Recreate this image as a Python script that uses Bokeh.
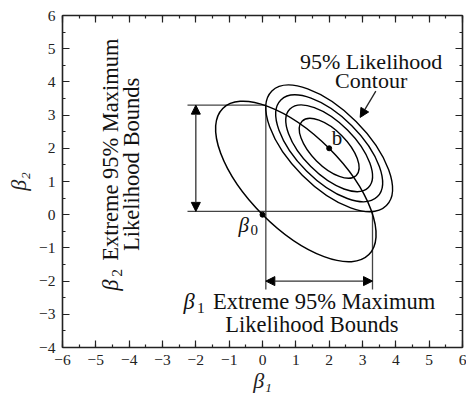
import math
from bokeh.plotting import figure
from bokeh.models import (LinearAxis, SingleIntervalTicker, Arrow, NormalHead,
                          ColumnDataSource)
from bokeh.core.properties import value
from bokeh.embed import file_html
from bokeh.resources import INLINE

# ---------------- data ----------------
x_ticks = [-6, -5, -4, -3, -2, -1, 0, 1, 2, 3, 4, 5, 6]
x_tick_labels = ["\u22126", "\u22125", "\u22124", "\u22123", "\u22122", "\u22121",
                 "0", "1", "2", "3", "4", "5", "6"]
y_ticks = [-4, -3, -2, -1, 0, 1, 2, 3, 4, 5, 6]
y_tick_labels = ["\u22124", "\u22123", "\u22122", "\u22121", "0", "1", "2", "3",
                 "4", "5", "6"]

# maximum-likelihood estimate b and the point beta0
point_x = [2.0, 0.0]
point_y = [2.0, 0.0]

# large (joint) ellipse through beta0 and b
big_x = [1.0]
big_y = [1.0]
big_w = [6.2]
big_h = [2.83]
big_angle = [-math.pi / 4]

# nested likelihood contours around b
cont_x = [2.0, 2.0, 2.0, 2.0]
cont_y = [2.0, 2.0, 2.0, 2.0]
cont_w = [2.30, 3.33, 4.10, 4.86]
cont_h = [1.08, 1.56, 1.93, 2.29]
cont_angle = [-math.pi / 4] * 4

# extreme bounds
lo_bound = 0.1
hi_bound = 3.3
guide_end = -2.25
arrow_pos = -2.0

# pointer arrow from label to outer contour
ptr_x0, ptr_y0, ptr_x1, ptr_y1 = 3.40, 3.72, 2.93, 2.93

# ---------------- figure ----------------
FONT = value("Liberation Serif")
INK = "#111111"

p = figure(width=466, height=396, x_range=(-6, 6), y_range=(-4, 6),
           output_backend="svg", toolbar_location=None,
           min_border_left=62, min_border_right=4,
           min_border_top=15, min_border_bottom=49)
p.grid.visible = False
p.outline_line_color = None
p.background_fill_color = "white"
p.border_fill_color = "white"


def style_axis(ax, labels, ticks, show_labels=True):
    ax.ticker = SingleIntervalTicker(interval=1, num_minor_ticks=2)
    ax.axis_line_color = "#222222"
    ax.axis_line_width = 1.6
    ax.major_tick_line_color = "#222222"
    ax.minor_tick_line_color = "#222222"
    ax.major_tick_line_width = 1.2
    ax.minor_tick_line_width = 1.2
    ax.major_tick_in = 7
    ax.major_tick_out = 0
    ax.minor_tick_in = 3
    ax.minor_tick_out = 0
    if show_labels:
        ax.major_label_overrides = dict(zip(ticks, labels))
        ax.major_label_text_font = "Liberation Serif"
        ax.major_label_text_font_size = "15.5px"
        ax.major_label_text_color = "#222222"
        ax.major_label_standoff = 7
    else:
        ax.major_label_text_color = None
        ax.major_label_text_font_size = "1px"
        ax.major_label_standoff = 0


style_axis(p.xaxis[0], x_tick_labels, x_ticks)
style_axis(p.yaxis[0], y_tick_labels, y_ticks)
p.xaxis.axis_label = "\u03b2\u2081"
p.yaxis.axis_label = "\u03b2\u2082"
for ax in (p.xaxis[0], p.yaxis[0]):
    ax.axis_label_text_font = "Liberation Serif"
    ax.axis_label_text_font_size = "22px"
    ax.axis_label_text_font_style = "italic"
    ax.axis_label_text_color = "#222222"
p.xaxis.axis_label_standoff = 0
p.yaxis.axis_label_standoff = 5

top_ax = LinearAxis()
style_axis(top_ax, None, None, show_labels=False)
p.add_layout(top_ax, "above")
right_ax = LinearAxis()
style_axis(right_ax, None, None, show_labels=False)
p.add_layout(right_ax, "right")

# ---------------- bound guide lines ----------------
p.segment(x0=[guide_end, guide_end, lo_bound, hi_bound],
          y0=[hi_bound, lo_bound, hi_bound, lo_bound],
          x1=[lo_bound, hi_bound, lo_bound, hi_bound],
          y1=[hi_bound, lo_bound, guide_end, guide_end],
          line_color="#444444", line_width=1.3)

# ---------------- ellipses ----------------
p.ellipse(x=big_x, y=big_y, width=big_w, height=big_h, angle=big_angle,
          fill_color=None, line_color="black", line_width=1.5)
p.ellipse(x=cont_x, y=cont_y, width=cont_w, height=cont_h, angle=cont_angle,
          fill_color=None, line_color="black", line_width=1.4)

p.scatter(x=point_x, y=point_y, size=5, color="black")

# ---------------- arrows ----------------
arr_src = ColumnDataSource(dict(
    x0=[arrow_pos, lo_bound], y0=[lo_bound, arrow_pos],
    x1=[arrow_pos, hi_bound], y1=[hi_bound, arrow_pos]))
p.add_layout(Arrow(source=arr_src, x_start="x0", y_start="y0",
                   x_end="x1", y_end="y1",
                   start=NormalHead(size=9, fill_color="black", line_color="black"),
                   end=NormalHead(size=9, fill_color="black", line_color="black"),
                   line_color="#333333", line_width=1.3))
p.add_layout(Arrow(x_start=ptr_x0, y_start=ptr_y0, x_end=ptr_x1, y_end=ptr_y1,
                   end=NormalHead(size=9, fill_color="black", line_color="black"),
                   line_color="#222222", line_width=1.3))

# ---------------- texts ----------------
U = 1 / 33.33  # one screen pixel in data units
LIFT = 0.386   # baseline correction, in em


def txt(x, y, s, size, style="normal", align="left", vertical=False):
    shift = LIFT * float(size.replace("px", "")) * U
    if vertical:
        x, y, angle = x - shift, y, math.pi / 2
    else:
        x, y, angle = x, y + shift, 0.0
    p.text(x=[x], y=[y], text=[s], text_font=FONT, text_font_size=value(size),
           text_font_style=style, text_align=align, text_baseline="alphabetic",
           text_color=INK, angle=angle)


# contour label
txt(3.26, 4.37, "95% Likelihood", "22px", align="center")
txt(3.26, 3.80, "Contour", "22px", align="center")

# b and beta0
txt(2.08, 2.06, "b", "21px")
txt(-0.72, -0.54, "\u03b2", "21px", style="italic")
txt(-0.72 + 12 * U, -0.54 - 3 * U, "0", "15px")

# beta1 bounds label (horizontal)
h_x, h_y = -2.37, -2.89
txt(h_x, h_y, "\u03b2", "22.5px", style="italic")
txt(h_x + 13.5 * U, h_y - 3 * U, "1", "15.5px")
txt(h_x + 29.4 * U, h_y, "Extreme 95% Maximum", "22.5px")
txt(1.48, -3.57, "Likelihood Bounds", "22.5px", align="center")

# beta2 bounds label (vertical)
v_x, v_y = -4.29, -2.29
txt(v_x, v_y, "\u03b2", "22.5px", style="italic", vertical=True)
txt(v_x + 3 * U, v_y + 14 * U, "2", "15.5px", vertical=True)
txt(v_x, v_y + 30 * U, "Extreme 95% Maximum", "22.5px", vertical=True)
txt(-3.67, 1.515, "Likelihood Bounds", "22.5px", align="center", vertical=True)

open("out.html", "w").write(file_html(p, INLINE))
